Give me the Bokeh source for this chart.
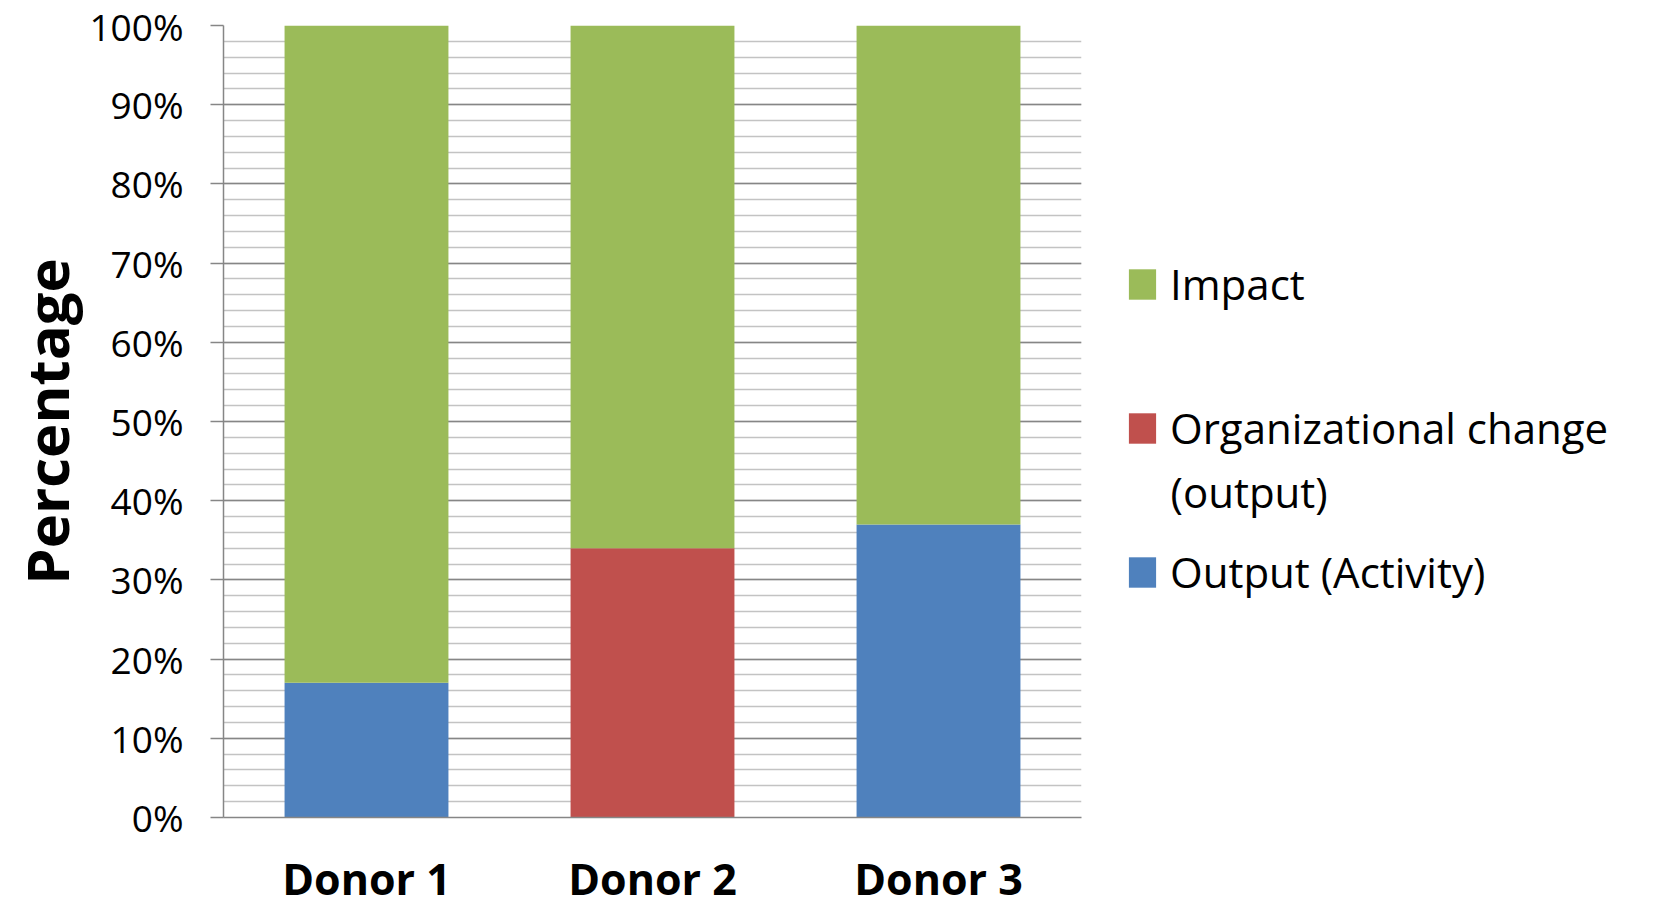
from bokeh.plotting import figure
from bokeh.layouts import row
from bokeh.models import (ColumnDataSource, FactorRange, Range1d, SingleIntervalTicker,
                          NumeralTickFormatter, Legend, LegendItem, Label)
from bokeh.embed import file_html
from bokeh.resources import INLINE

# ---- data ----
categories = ["Donor 1", "Donor 2", "Donor 3"]
output_activity = [0.17, 0.00, 0.37]
org_change = [0.00, 0.34, 0.00]
impact = [0.83, 0.66, 0.63]
legend_labels = ["Impact", "Organizational change", "Output (Activity)"]
colors = ["#4F81BD", "#C0504D", "#9BBB59"]

source = ColumnDataSource(dict(cat=categories, out=output_activity,
                               org=org_change, imp=impact))

# ---- main chart ----
p = figure(x_range=FactorRange(factors=categories), y_range=Range1d(0, 1),
           width=1100, height=910, output_backend="svg", toolbar_location=None,
           min_border_left=223, min_border_right=19, min_border_top=25,
           min_border_bottom=90)
p.outline_line_color = None

renderers = p.vbar_stack(["out", "org", "imp"], x="cat", width=0.573,
                         color=colors, line_color=None, source=source)

ticker = SingleIntervalTicker(interval=0.1, num_minor_ticks=5)
p.yaxis.ticker = ticker
p.ygrid.ticker = ticker
p.xgrid.grid_line_color = None
p.ygrid.grid_line_color = "#868686"
p.ygrid.grid_line_width = 1.5
p.ygrid.minor_grid_line_color = "#c3c3c3"
p.ygrid.minor_grid_line_width = 1.5
p.ygrid.level = "underlay"

p.yaxis.formatter = NumeralTickFormatter(format="0%")
p.yaxis.axis_line_color = "#868686"
p.yaxis.axis_line_width = 1.5
p.yaxis.major_tick_line_color = "#868686"
p.yaxis.major_tick_line_width = 1.5
p.yaxis.major_tick_out = 13
p.yaxis.major_tick_in = 0
p.yaxis.minor_tick_line_color = None
p.yaxis.major_label_text_font = "Open Sans"
p.yaxis.major_label_text_font_size = "37px"
p.yaxis.major_label_text_color = "black"
p.yaxis.major_label_standoff = 27
p.yaxis.axis_label = "Percentage"
p.yaxis.axis_label_text_font = "Open Sans"
p.yaxis.axis_label_text_font_style = "bold"
p.yaxis.axis_label_text_font_size = "58px"
p.yaxis.axis_label_text_color = "black"
p.yaxis.axis_label_standoff = 0

p.xaxis.axis_line_color = "#868686"
p.xaxis.axis_line_width = 1.5
p.xaxis.major_tick_line_color = None
p.xaxis.major_tick_out = 0
p.xaxis.major_tick_in = 0
p.xaxis.minor_tick_line_color = None
p.xaxis.major_label_text_font = "Open Sans"
p.xaxis.major_label_text_font_style = "bold"
p.xaxis.major_label_text_font_size = "43px"
p.xaxis.major_label_text_color = "black"
p.xaxis.major_label_standoff = 31

# ---- legend panel ----
lg = figure(width=570, height=910, x_range=Range1d(0, 570), y_range=Range1d(0, 910),
            x_axis_type=None, y_axis_type=None, output_backend="svg",
            toolbar_location=None, min_border=0)
lg.outline_line_color = None
lg.xgrid.visible = False
lg.ygrid.visible = False

keys = ["out", "org", "imp"]
swatch = {}
for name, col in zip(keys, colors):
    # zero-height, off-range bar: only its legend swatch is visible
    swatch[name] = lg.vbar(x=[-50], top=[0], bottom=[0], width=1,
                           fill_color=col, line_color=None)

legend = Legend(items=[
    LegendItem(label=legend_labels[0], renderers=[swatch["imp"]]),
    LegendItem(label=legend_labels[1], renderers=[swatch["org"]]),
    LegendItem(label=legend_labels[2], renderers=[swatch["out"]]),
], location=(25, 217), orientation="vertical", glyph_width=34, glyph_height=38,
    label_standoff=11, label_text_font="Open Sans", label_text_font_size="42px",
    label_text_color="black", spacing=87, padding=0, margin=0,
    border_line_color=None, background_fill_alpha=0)
lg.add_layout(legend, "center")

lg.add_layout(Label(x=70, y=375, text="(output)", text_baseline="alphabetic",
                    text_font="Open Sans", text_font_size="42px", text_color="black"))

layout = row(p, lg, spacing=0)
open("out.html", "w").write(file_html(layout, INLINE))
